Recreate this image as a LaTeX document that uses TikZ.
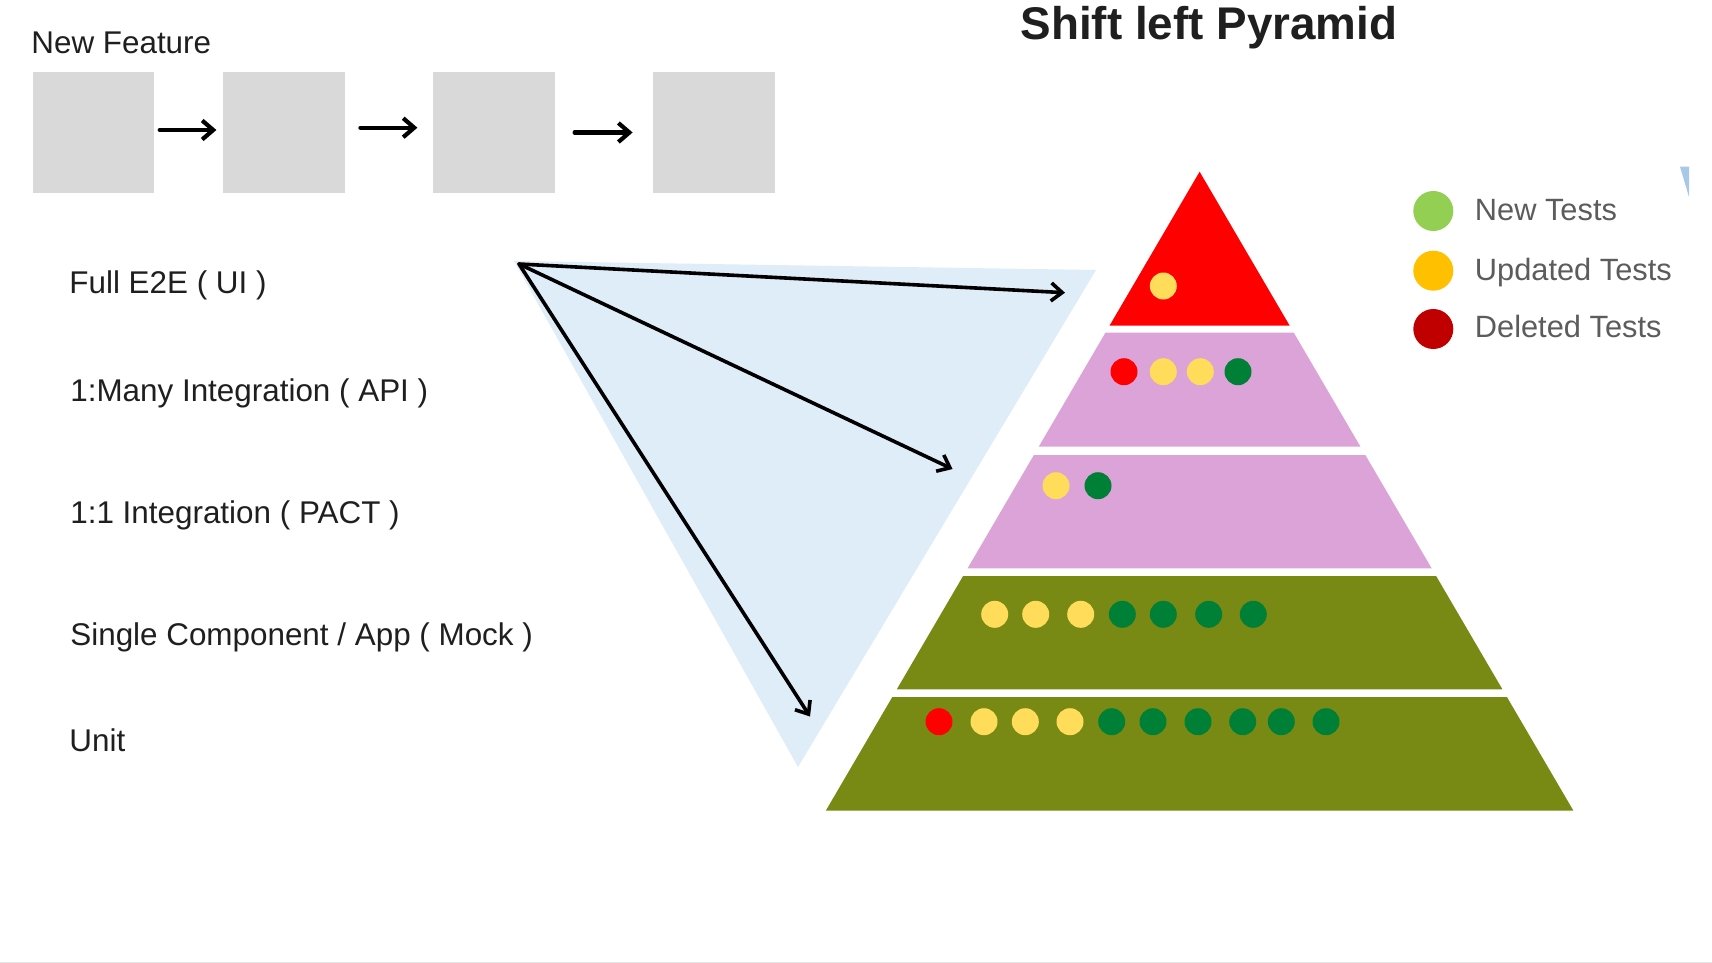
\documentclass[tikz,border=0pt]{standalone}
\usepackage{fontspec}
\setmainfont{Liberation Sans}
\usepackage{xcolor}
\usetikzlibrary{calc,arrows.meta}
\definecolor{boxgrey}{HTML}{D9D9D9}
\definecolor{skyblue}{HTML}{DFEDF9}
\definecolor{toptier}{HTML}{FF0000}
\definecolor{midtier}{HTML}{DBA3D8}
\definecolor{lowtier}{HTML}{798A14}
\definecolor{dotyellow}{HTML}{FFDC5A}
\definecolor{dotgreen}{HTML}{008037}
\definecolor{dotred}{HTML}{FF0000}
\definecolor{keygreen}{HTML}{92CF52}
\definecolor{keyyellow}{HTML}{FFC000}
\definecolor{keyred}{HTML}{C00000}
\definecolor{inktext}{HTML}{1F1F1F}
\definecolor{keytext}{HTML}{5C5C5C}
\definecolor{sliver}{HTML}{A8C8E8}
\tikzset{
  stagebox/.style={fill=boxgrey,minimum width=60.8pt,minimum height=60.8pt,inner sep=0pt},
  flowarrow/.style={line width=2.1pt,line cap=round,-{Straight Barb[length=5.5pt,width=9.5pt]}},
  fanarrow/.style={line width=1.8pt,line cap=round,-{Straight Barb[length=5.5pt,width=9pt]}},
  levellabel/.style={anchor=base west,inner sep=0pt,text=inktext,font=\fontsize{15.7}{18}\selectfont},
  keylabel/.style={anchor=base west,inner sep=0pt,text=keytext,font=\fontsize{15.4}{18}\selectfont},
  testdot/.style={fill=#1}
}
\begin{document}
\begin{tikzpicture}[x=0.5pt,y=-0.5pt]
    \useasboundingbox (0,0) rectangle (1712,963);
    \fill[white] (0,0) rectangle (1712,963);
    \draw[line width=0.5pt,color=black!10] (0,962) -- (1712,962);
    % feature flow
    \node[levellabel] (feature) at (31,53.3) {New Feature};
    \node[stagebox] (box1) at (93.5,132.5) {};
    \node[stagebox] (box2) at (284.2,132.5) {};
    \node[stagebox] (box3) at (494.2,132.5) {};
    \node[stagebox] (box4) at (714,132.5) {};
    \draw[flowarrow,shorten <=2.5pt,shorten >=3.3pt] ([yshift=1.25pt]box1.east) -- ([yshift=1.25pt]box2.west);
    \draw[flowarrow,shorten <=7.5pt,shorten >=7.8pt] ([yshift=2.4pt]box2.east) -- ([yshift=2.4pt]box3.west);
    \draw[flowarrow,shorten <=9.6pt,shorten >=10.1pt] (box3.east) -- (box4.west);
    % test levels
    \node[levellabel] (ui) at (69,293.3) {Full E2E ( UI )};
    \node[levellabel] (api) at (70,401.7) {1:Many Integration ( API )};
    \node[levellabel] (pact) at (70,523.3) {1:1 Integration ( PACT )};
    \node[levellabel] (mock) at (70,645) {Single Component / App ( Mock )};
    \node[levellabel] (unit) at (69,751.7) {Unit};
    % shift left fan
    \fill[skyblue] (514,261) -- (1096,270) -- (798,767) -- cycle;
    \coordinate (hub) at (519,264);
    \coordinate (toUI) at (1065,292.7);
    \coordinate (toAPI) at (952.5,469);
    \coordinate (toUnit) at (810,716.5);
    \draw[fanarrow] (hub) -- (toUI);
    \draw[fanarrow] (hub) -- (toAPI);
    \draw[fanarrow] (hub) -- (toUnit);
    % pyramid
    \node[anchor=base,inner sep=0pt,text=inktext,font=\bfseries\fontsize{22.9}{26}\selectfont] (title) at (1209,39.3) {Shift left Pyramid};
    \fill[toptier] (1199.6,171.7) -- ({1199.6+0.585*154},325.7) -- ({1199.6-0.585*154},325.7) -- cycle;
    \foreach \ya/\yb/\tint in {332.7/446.7/midtier,455/568.3/midtier,576/689.3/lowtier,697/810.7/lowtier}
      \fill[\tint] ({1199.6-0.585*(\ya-171.7)},\ya) -- ({1199.6+0.585*(\ya-171.7)},\ya)
        -- ({1199.6+0.585*(\yb-171.7)},\yb) -- ({1199.6-0.585*(\yb-171.7)},\yb) -- cycle;
    \foreach \dx/\dy/\dc in {1163.3/286/dotyellow,
        1124/371.7/dotred,1163.3/371.7/dotyellow,1200.3/371.7/dotyellow,1238/371.7/dotgreen,
        1056/485.7/dotyellow,1098/485.7/dotgreen,
        994.7/614.3/dotyellow,1035.7/614.3/dotyellow,1080.7/614.3/dotyellow,1122.3/614.3/dotgreen,
        1163.3/614.3/dotgreen,1208.7/614.3/dotgreen,1253.3/614.3/dotgreen,
        939/721.7/dotred,984/721.7/dotyellow,1025.3/721.7/dotyellow,1070/721.7/dotyellow,
        1111.7/721.7/dotgreen,1153/721.7/dotgreen,1198/721.7/dotgreen,1242.7/721.7/dotgreen,
        1281.3/721.7/dotgreen,1326/721.7/dotgreen}
      \fill[testdot=\dc] (\dx,\dy) circle (6.75pt);
    % legend
    \fill[keygreen] (1433.3,211) circle (10pt);
    \fill[keyyellow] (1433.3,270.7) circle (10pt);
    \fill[keyred] (1433.3,329) circle (10pt);
    \node[keylabel] (newtests) at (1474.5,220) {New Tests};
    \node[keylabel] (updtests) at (1474.5,280) {Updated Tests};
    \node[keylabel] (deltests) at (1474.5,337.3) {Deleted Tests};
    \fill[sliver] (1680,166.7) -- (1689,166.7) -- (1689,197) -- cycle;
  \end{tikzpicture}
\end{document}
